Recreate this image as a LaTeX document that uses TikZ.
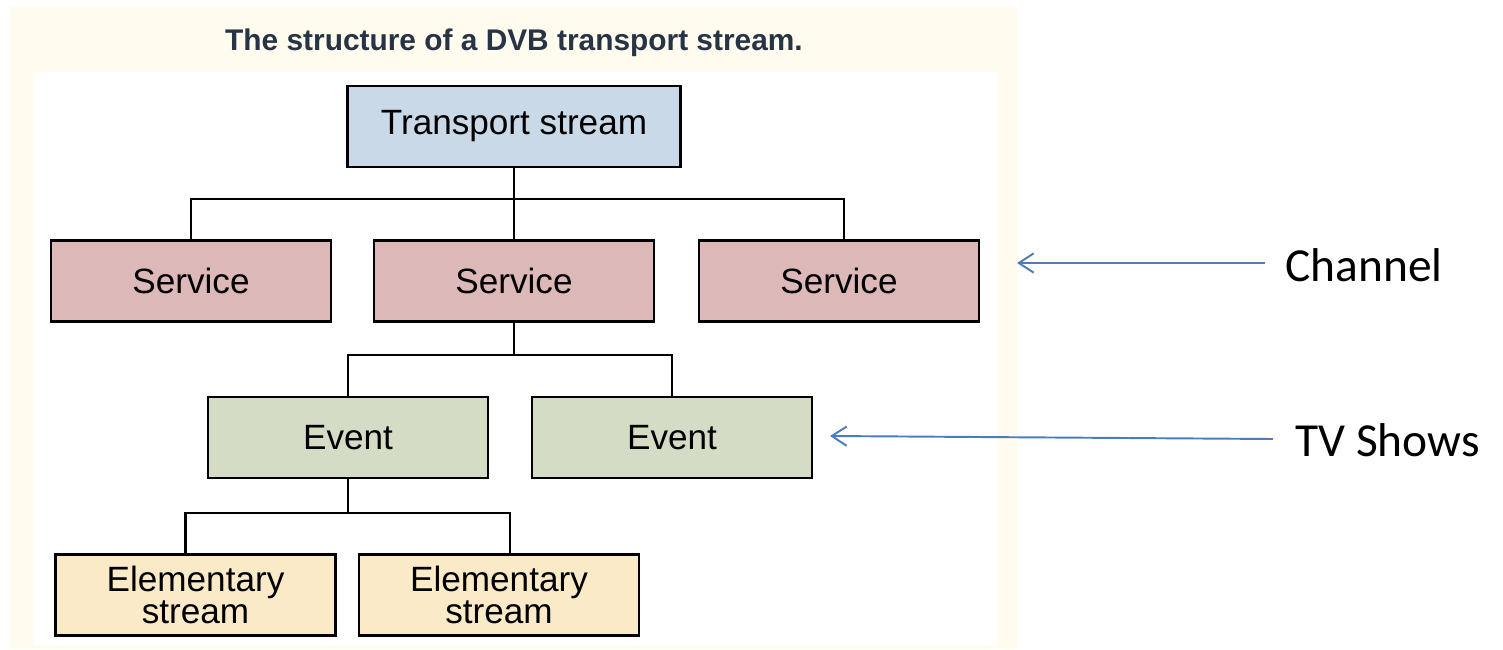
\documentclass[tikz,border=0pt]{standalone}
\usepackage{fontspec}
\setmainfont{Liberation Sans}
\newfontfamily\calfont{Carlito}
\usetikzlibrary{arrows.meta,calc}
\definecolor{panelcream}{HTML}{FFFBEE}
\definecolor{tsblue}{HTML}{C9D9E8}
\definecolor{svcred}{HTML}{DCB8B8}
\definecolor{evgreen}{HTML}{D4DCC6}
\definecolor{esyellow}{HTML}{FAEAC8}
\definecolor{titleink}{HTML}{263445}
\definecolor{noteblue}{HTML}{4A7EBB}
\tikzset{
  box/.style={draw=black, line width=1.2pt, minimum width=280*0.02cm, minimum height=81*0.02cm,
              inner sep=0pt, font=\fontsize{20}{17}\selectfont, align=center},
  tsbox/.style={box, fill=tsblue, minimum width=333*0.02cm},
  svcbox/.style={box, fill=svcred},
  evbox/.style={box, fill=evgreen},
  esbox/.style={box, fill=esyellow},
  wire/.style={draw=black, line width=1.2pt},
  note/.style={font=\calfont\fontsize{27}{30}\selectfont, anchor=west, inner sep=0pt},
  pointer/.style={draw=noteblue, line width=1.1pt, -{Straight Barb[length=8.5pt,width=11pt,line width=1.1pt]}}
}
\begin{document}
\begin{tikzpicture}[x=0.02cm, y=-0.02cm]
  \useasboundingbox (0,0) rectangle (1503,649);
  % background panels
  \fill[panelcream] (10,7) rectangle (1017,649);
  \fill[white] (34,72) rectangle (997,645);
  % title
  \node[font=\bfseries\fontsize{17}{20}\selectfont, text=titleink, inner sep=0pt] (title) at (514,43) {The structure of a DVB transport stream.};
  % hierarchy
  \node[tsbox] (ts) at (514,126.5) {Transport stream};
  \node[svcbox] (s1) at (191,281) {Service};
  \node[svcbox] (s2) at (514,281) {Service};
  \node[svcbox] (s3) at (839,281) {Service};
  \node[evbox] (e1) at (348,437.5) {Event};
  \node[evbox] (e2) at (672,437.5) {Event};
  \node[esbox] (es1) at (195.5,595) {Elementary\\stream};
  \node[esbox] (es2) at (499,595) {Elementary\\stream};
  % connectors
  \coordinate (b1) at (514,199);
  \coordinate (b2) at (514,355);
  \coordinate (b3) at (348,513);
  \draw[wire] (ts.south) -- (b1);
  \draw[wire] (s1.north) |- (b1) -| ($(s3.north)+(5,0)$);
  \draw[wire] (b1) -- (s2.north);
  \draw[wire] (s2.south) -- (b2);
  \draw[wire] (e1.north) |- (b2) -| (e2.north);
  \draw[wire] (e1.south) -- (b3);
  \draw[wire] ($(es1.north)+(-10,0)$) |- (b3) -| ($(es2.north)+(11,0)$);
  % annotations
  \node[note] (chl) at (1285,265) {Channel};
  \node[note] (tvs) at (1295,440) {TV Shows};
  \coordinate (chtip) at (1017,263);
  \coordinate (tvtip) at (830,436);
  \draw[pointer] ($(chl.west)+(-20,-2)$) -- (chtip);
  \draw[pointer] ($(tvs.west)+(-22,-1)$) -- (tvtip);
\end{tikzpicture}
\end{document}
